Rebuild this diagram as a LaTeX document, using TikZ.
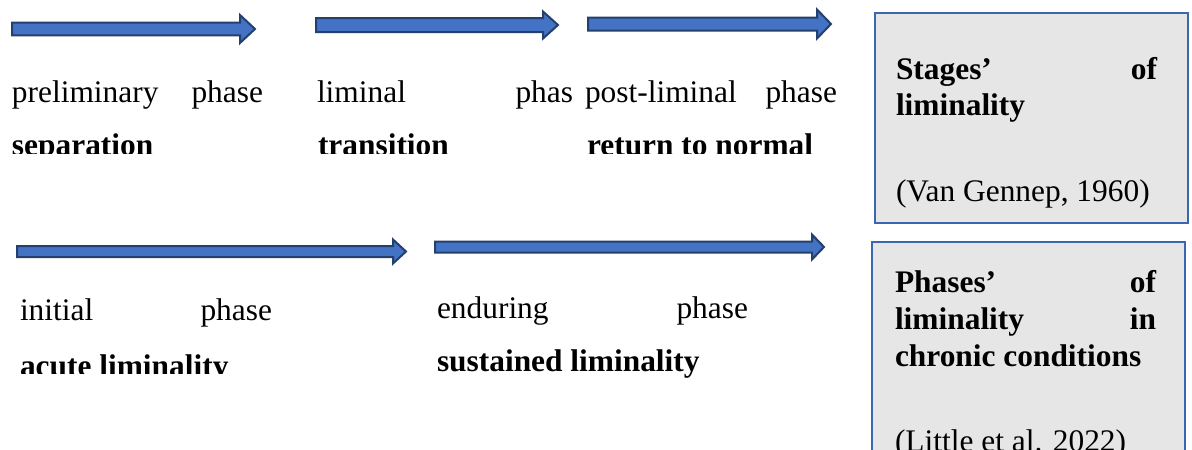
\documentclass[tikz,border=0pt]{standalone}
\usepackage{fontspec}
\setmainfont{Liberation Serif}
\definecolor{arrowfill}{HTML}{4472C4}
\definecolor{arrowline}{HTML}{23406E}
\definecolor{boxfill}{HTML}{E6E6E6}
\definecolor{boxline}{HTML}{3B67B0}
% #1 x start, #2 head start, #3 tip x, #4 centre y, #5 shaft half width, #6 head half width
\newcommand{\myblockarrow}[6]{%
  \draw[blockarrow] (#1,#4-#5) -- (#2,#4-#5) -- (#2,#4-#6) -- (#3,#4) -- (#2,#4+#6) -- (#2,#4+#5) -- (#1,#4+#5) -- cycle;}
\tikzset{
  blockarrow/.style={fill=arrowfill, draw=arrowline, line width=2pt, line join=miter},
  infobox/.style={fill=boxfill, draw=boxline, line width=2pt},
  txt/.style={anchor=base west, inner sep=0pt, outer sep=0pt, font=\fontsize{31.4}{37}\selectfont},
  btxt/.style={txt, font=\fontsize{31.4}{37}\selectfont\bfseries},
}
\begin{document}
\begin{tikzpicture}[x=1pt,y=-1pt]
\path[use as bounding box] (0,0) rectangle (1192,450);
\clip (0,0) rectangle (1192,450);
\fill[white] (0,0) rectangle (1192,450);

% arrows
\myblockarrow{12}{240}{255}{29}{6.3}{14}
\myblockarrow{316}{543}{558}{25}{7}{13.5}
\myblockarrow{588}{817}{831}{24}{6.5}{14.5}
\myblockarrow{17}{393}{406}{251.5}{5.5}{12}
\myblockarrow{435}{812}{824}{247}{5.5}{12.5}

% row 1 texts
\begin{scope}
\clip (0,60) rectangle (300,153);
\node[txt] (prelim) at (12,102) {\makebox[251pt][l]{preliminary\hfill phase}};
\node[btxt] (sep) at (12,155) {separation};
\end{scope}
\begin{scope}
\clip (300,60) rectangle (572,153);
\node[txt] (liminal) at (317,102) {\makebox[270pt][l]{liminal\hfill phase}};
\node[btxt] (trans) at (318,155) {transition};
\end{scope}
\begin{scope}
\clip (575,60) rectangle (860,153);
\node[txt] (postlim) at (585,102) {\makebox[252pt][l]{post-liminal\hfill phase}};
\node[btxt] (ret) at (587,155) {return to normal};
\end{scope}

% row 2 texts
\begin{scope}
\clip (0,280) rectangle (420,373);
\node[txt] (initial) at (20,320) {\makebox[252pt][l]{initial\hfill phase}};
\node[btxt] (acute) at (20,376) {acute liminality};
\end{scope}
\node[txt] (enduring) at (437,318) {\makebox[311pt][l]{enduring\hfill phase}};
\node[btxt] (sust) at (437,371) {sustained liminality};

% right boxes
\draw[infobox] (875,13) rectangle (1188,223);
\node[btxt] (stages) at (896,79) {\makebox[261pt][l]{Stages’\hfill of}};
\node[btxt] (stages2) at (896,115) {liminality};
\node[txt] (vang) at (896,201) {(Van Gennep, 1960)};

\draw[infobox] (872,242) rectangle (1185,470);
\node[btxt] (phases) at (895,292) {\makebox[261pt][l]{Phases’\hfill of}};
\node[btxt] (phases2) at (895,329) {\makebox[261pt][l]{liminality\hfill in}};
\node[btxt] (phases3) at (895,366) {chronic conditions};
\node[txt] (little) at (895,451) {(Little et al. 2022)};
\end{tikzpicture}
\end{document}
